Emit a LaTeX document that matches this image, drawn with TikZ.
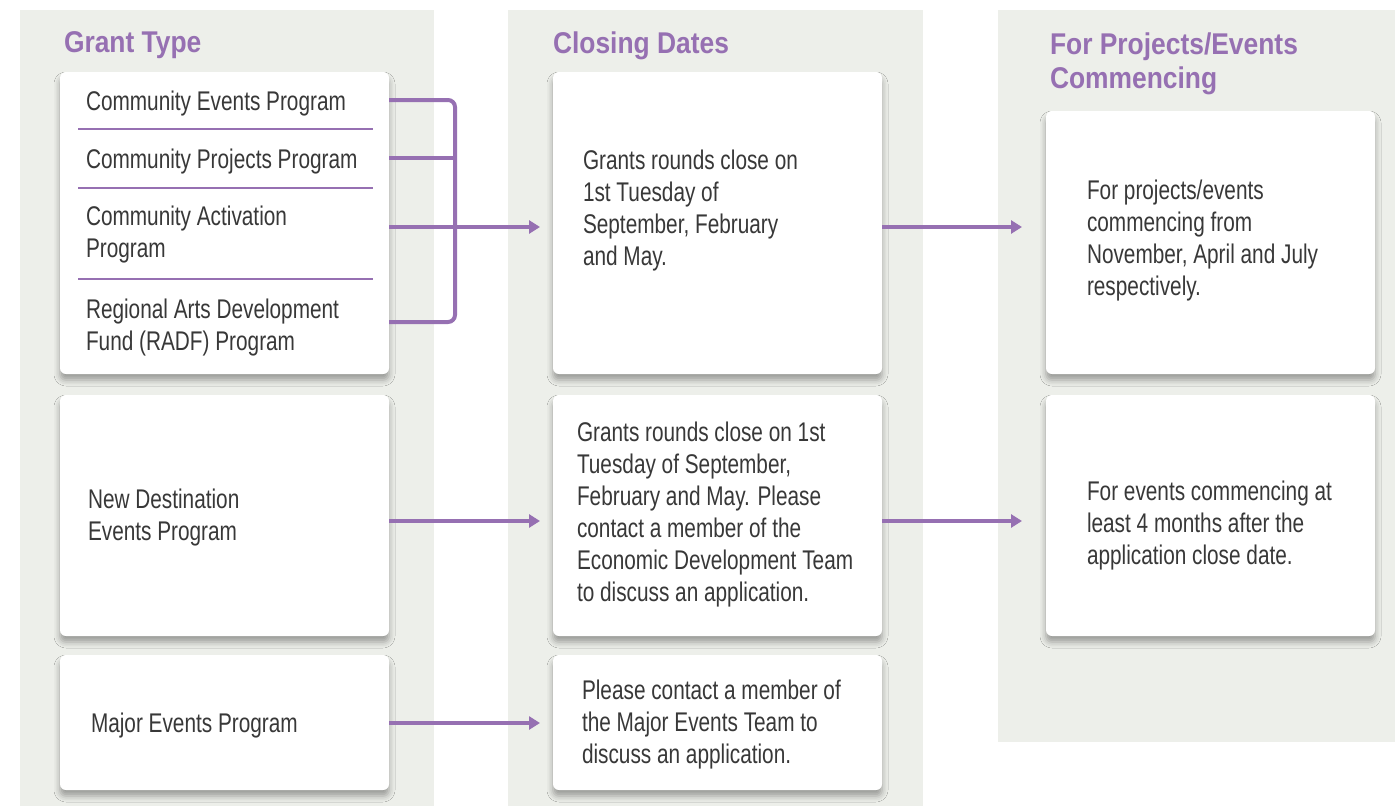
\documentclass[tikz,border=0pt]{standalone}
\usepackage{fontspec}
\setmainfont{Liberation Sans}[FakeStretch=0.77]
\newfontfamily\headfont{Liberation Sans}[FakeStretch=0.88]
\usetikzlibrary{arrows.meta,shadows.blur}
\definecolor{bgcol}{HTML}{EDEFEA}
\definecolor{purp}{HTML}{9670B2}
\definecolor{txtcol}{HTML}{383838}
\tikzset{
  colbg/.style={fill=bgcol, draw=none},
  card/.style={rectangle, fill=white, draw=none, rounded corners=6pt, inner sep=0pt, outer sep=0pt,
    minimum width=329pt, blur shadow={shadow xshift=0pt, shadow yshift=-6pt, shadow blur radius=6pt, shadow opacity=35}},
  txt/.style={anchor=base west, inner sep=0pt, outer sep=0pt, text=txtcol, font=\fontsize{27}{32}\selectfont},
  head/.style={anchor=base west, inner sep=0pt, outer sep=0pt, text=purp, font=\headfont\bfseries\fontsize{30}{31}\selectfont},
  divider/.style={draw=purp, line width=2pt},
  link/.style={draw=purp, line width=4pt},
  arr/.style={draw=purp, line width=4pt, -{Triangle[length=11pt,width=13pt]}}
}
\newcommand{\lines}[1]{\begin{tabular}[t]{@{}l@{}}#1\end{tabular}}
\begin{document}
\begin{tikzpicture}[x=1pt,y=-1pt]
\useasboundingbox[fill=white] (0,0) rectangle (1395,806);
% column backgrounds
\fill[colbg] (20,10) rectangle (434,806);
\fill[colbg] (508,10) rectangle (923,806);
\fill[colbg] (998,10) rectangle (1395,742);
% headers
\node[head] (h1) at (64,52) {Grant Type};
\node[head] (h2) at (553,53) {Closing Dates};
\node[head] (h3) at (1050,54) {\lines{For Projects/Events\\[3pt]Commencing}};
% cards
\node[card, minimum height=302pt] (g1) at (224.5,223) {};
\node[card, minimum height=241pt] (g2) at (224.5,515.5) {};
\node[card, minimum height=135pt] (g3) at (224.5,722.5) {};
\node[card, minimum height=302pt] (c1) at (717.5,223) {};
\node[card, minimum height=241pt] (c2) at (717.5,515.5) {};
\node[card, minimum height=135pt] (c3) at (717.5,722.5) {};
\node[card, minimum height=263pt] (p1) at (1210.5,242.5) {};
\node[card, minimum height=241pt] (p2) at (1210.5,515.5) {};
% dividers in first card
\coordinate (d1l) at (78,129); \coordinate (d1r) at (373,129);
\coordinate (d2l) at (78,188); \coordinate (d2r) at (373,188);
\coordinate (d3l) at (78,279); \coordinate (d3r) at (373,279);
\draw[divider] (d1l) -- (d1r);
\draw[divider] (d2l) -- (d2r);
\draw[divider] (d3l) -- (d3r);
% texts
\node[txt] (t1) at (86,110) {Community Events Program};
\node[txt] (t2) at (86,168) {Community Projects Program};
\node[txt] (t3) at (86,225) {\lines{Community Activation\\Program}};
\node[txt] (t4) at (86,318) {\lines{Regional Arts Development\\Fund (RADF) Program}};
\node[txt] (t5) at (88,508) {\lines{New Destination\\Events Program}};
\node[txt] (t6) at (91,732) {Major Events Program};
\node[txt] (t7) at (583,169) {\lines{Grants rounds close on\\1st Tuesday of\\September, February\\and May.}};
\node[txt] (t8) at (577,441) {\lines{Grants rounds close on 1st\\Tuesday of September,\\February and May. Please\\contact a member of the\\Economic Development Team\\to discuss an application.}};
\node[txt] (t9) at (582,699) {\lines{Please contact a member of\\the Major Events Team to\\discuss an application.}};
\node[txt] (t10) at (1087,199) {\lines{For projects/events\\commencing from\\November, April and July\\respectively.}};
\node[txt] (t11) at (1087,500) {\lines{For events commencing at\\least 4 months after the\\application close date.}};
% connector levels
\coordinate (b1) at (0,100);
\coordinate (b2) at (0,158);
\coordinate (b4) at (0,322);
\coordinate (bx) at (455,0);
\coordinate (r1) at (0,227);
\coordinate (r2) at (0,521);
\coordinate (r3) at (0,723);
% bracket
\draw[link, rounded corners=7pt] (g1.east |- b1) -- (bx |- b1) -- (bx |- b4) -- (g1.east |- b4);
\draw[link] (g1.east |- b2) -- (bx |- b2);
% arrows
\draw[arr, shorten >=13pt] (g1.east |- r1) -- (c1.west |- r1);
\draw[arr, shorten >=24pt] (c1.east |- r1) -- (p1.west |- r1);
\draw[arr, shorten >=13pt] (g2.east |- r2) -- (c2.west |- r2);
\draw[arr, shorten >=24pt] (c2.east |- r2) -- (p2.west |- r2);
\draw[arr, shorten >=13pt] (g3.east |- r3) -- (c3.west |- r3);
\end{tikzpicture}
\end{document}
